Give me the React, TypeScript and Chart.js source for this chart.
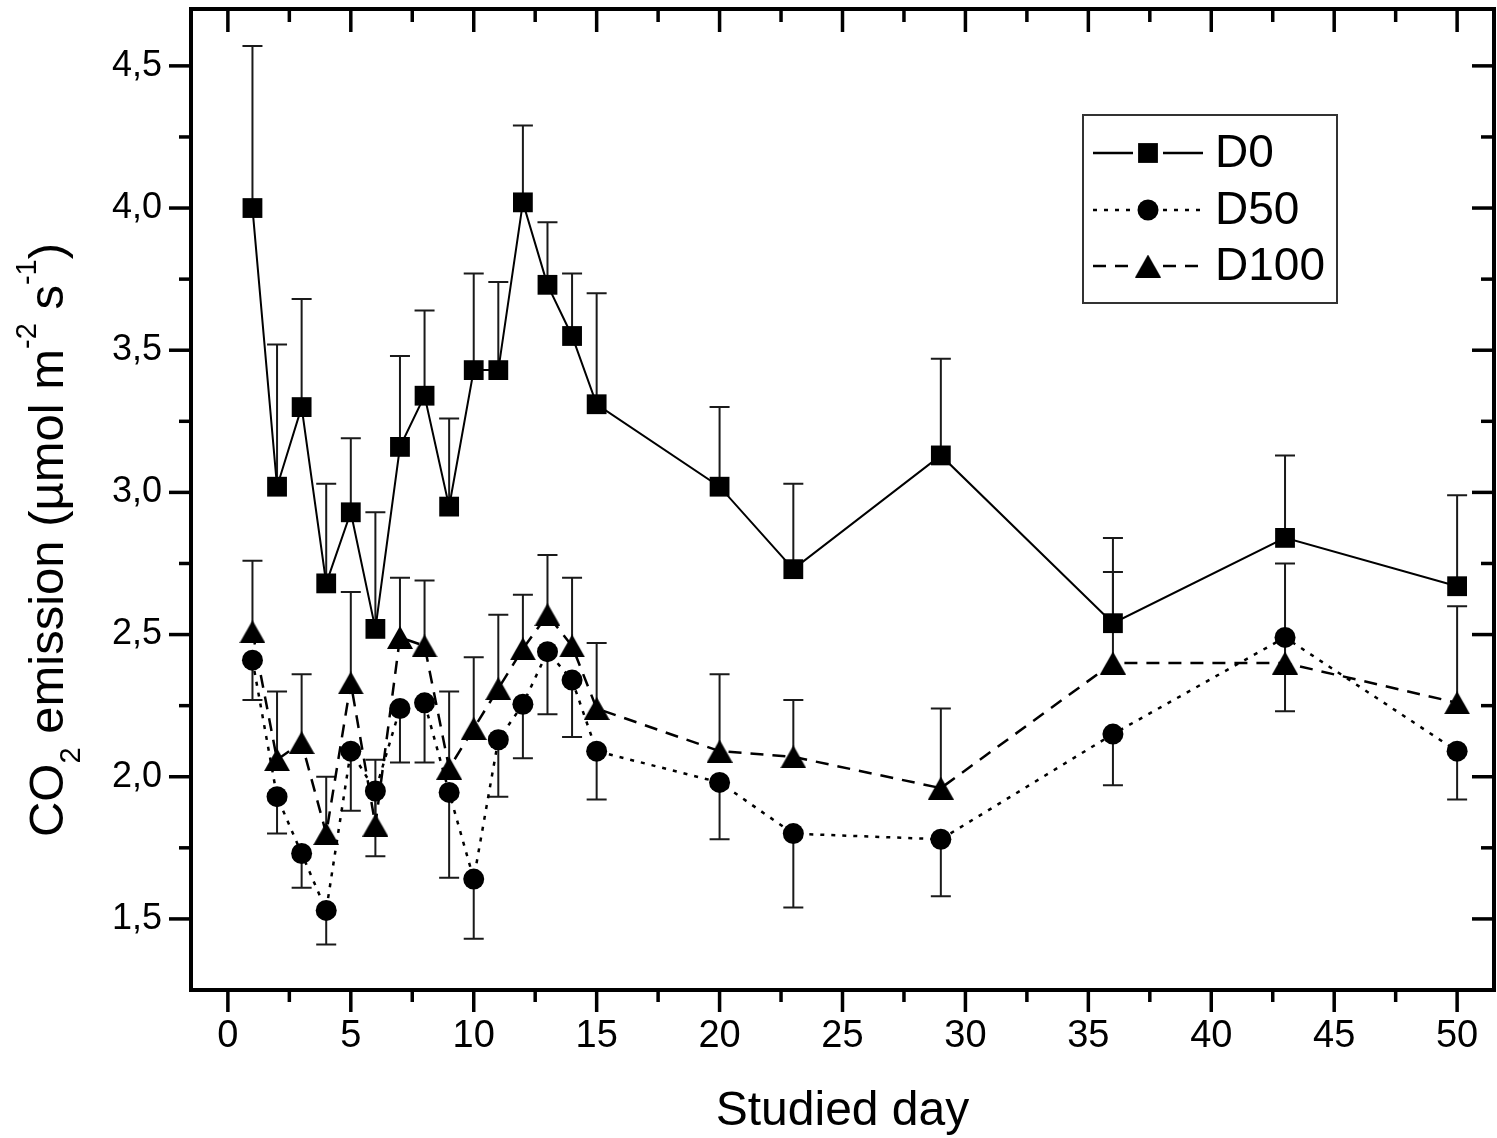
import React, { useEffect, useRef } from "react";
import { Chart, registerables } from "chart.js";

Chart.register(...registerables);

// ---- Data ----
const days = [1, 2, 3, 4, 5, 6, 7, 8, 9, 10, 11, 12, 13, 14, 15, 20, 23, 29, 36, 43, 50];

const d0Values = [4.0, 3.02, 3.3, 2.68, 2.93, 2.52, 3.16, 3.34, 2.95, 3.43, 3.43, 4.02, 3.73, 3.55, 3.31, 3.02, 2.73, 3.13, 2.54, 2.84, 2.67];
const d0Errors = [0.57, 0.5, 0.38, 0.35, 0.26, 0.41, 0.32, 0.3, 0.31, 0.34, 0.31, 0.27, 0.22, 0.22, 0.39, 0.28, 0.3, 0.34, 0.3, 0.29, 0.32];

const d50Values = [2.41, 1.93, 1.73, 1.53, 2.09, 1.95, 2.24, 2.26, 1.945, 1.64, 2.13, 2.255, 2.44, 2.34, 2.09, 1.98, 1.8, 1.78, 2.15, 2.49, 2.09];
const d50Errors = [0.14, 0.13, 0.12, 0.12, 0.21, 0.23, 0.19, 0.21, 0.3, 0.21, 0.2, 0.19, 0.22, 0.2, 0.17, 0.2, 0.26, 0.2, 0.18, 0.26, 0.17];

const d100Values = [2.51, 2.06, 2.12, 1.8, 2.33, 1.83, 2.49, 2.46, 2.03, 2.17, 2.31, 2.45, 2.57, 2.46, 2.24, 2.09, 2.07, 1.96, 2.4, 2.4, 2.26];
const d100Errors = [0.25, 0.24, 0.24, 0.2, 0.32, 0.23, 0.21, 0.23, 0.27, 0.25, 0.26, 0.19, 0.21, 0.24, 0.23, 0.27, 0.2, 0.28, 0.32, 0.35, 0.34];

const seriesNames = ["D0", "D50", "D100"];

const xTicks = [0, 5, 10, 15, 20, 25, 30, 35, 40, 45, 50];
const xMinorTicks = [2.5, 7.5, 12.5, 17.5, 22.5, 27.5, 32.5, 37.5, 42.5, 47.5];
const yTicks = [1.5, 2.0, 2.5, 3.0, 3.5, 4.0, 4.5];
const yMinorTicks = [1.75, 2.25, 2.75, 3.25, 3.75, 4.25];

const xTitle = "Studied day";
const yTitleParts = [
  { text: "CO", kind: "normal" },
  { text: "2", kind: "sub" },
  { text: " emission (\u00b5mol m", kind: "normal" },
  { text: "-2", kind: "sup" },
  { text: " s", kind: "normal" },
  { text: "-1", kind: "sup" },
  { text: ")", kind: "normal" },
];

const FONT = "'Liberation Sans', Arial, Helvetica, sans-serif";

export default function App() {
  const canvasRef = useRef<HTMLCanvasElement>(null);

  useEffect(() => {
    const canvas = canvasRef.current;
    if (!canvas) return;

    // triangle marker image (centred on its bounding box)
    const tri = document.createElement("canvas");
    tri.width = 26;
    tri.height = 23;
    const tctx = tri.getContext("2d")!;
    tctx.fillStyle = "#000";
    tctx.beginPath();
    tctx.moveTo(13, 0);
    tctx.lineTo(26, 23);
    tctx.lineTo(0, 23);
    tctx.closePath();
    tctx.fill();

    const toPts = (vals: number[]) => days.map((d, i) => ({ x: d, y: vals[i] }));

    const drawMarker = (ctx: CanvasRenderingContext2D, kind: string, x: number, y: number) => {
      ctx.fillStyle = "#000";
      if (kind === "rect") {
        ctx.fillRect(x - 9.9, y - 9.9, 19.8, 19.8);
      } else if (kind === "circle") {
        ctx.beginPath();
        ctx.arc(x, y, 10.5, 0, Math.PI * 2);
        ctx.fill();
      } else {
        ctx.drawImage(tri, x - 13, y - 11.5);
      }
    };

    const errorBarsPlugin = {
      id: "errorBars",
      beforeDatasetsDraw(chart: any) {
        const { ctx, scales } = chart;
        const xs = scales.x;
        const ys = scales.y;
        ctx.save();
        ctx.strokeStyle = "#1a1a1a";
        ctx.lineWidth = 2;
        chart.data.datasets.forEach((ds: any) => {
          ds.data.forEach((p: any, i: number) => {
            const e = ds.errors[i];
            const px = xs.getPixelForValue(p.x);
            const py0 = ys.getPixelForValue(p.y);
            const py1 = ys.getPixelForValue(p.y + ds.errorDir * e);
            ctx.beginPath();
            ctx.moveTo(px, py0);
            ctx.lineTo(px, py1);
            ctx.moveTo(px - 10, py1);
            ctx.lineTo(px + 10, py1);
            ctx.stroke();
          });
        });
        ctx.restore();
      },
    };

    const framePlugin = {
      id: "frame",
      afterDraw(chart: any) {
        const { ctx, chartArea, scales } = chart;
        const { left, right, top, bottom } = chartArea;
        const xs = scales.x;
        const ys = scales.y;
        ctx.save();
        ctx.strokeStyle = "#000";
        ctx.lineWidth = 4;
        ctx.lineCap = "butt";
        ctx.strokeRect(left, top, right - left, bottom - top);
        ctx.lineWidth = 3.5;
        const seg = (x1: number, y1: number, x2: number, y2: number) => {
          ctx.beginPath();
          ctx.moveTo(x1, y1);
          ctx.lineTo(x2, y2);
          ctx.stroke();
        };
        xTicks.forEach((v) => {
          const px = xs.getPixelForValue(v);
          seg(px, bottom, px, bottom + 22);
          seg(px, top, px, top + 23);
        });
        xMinorTicks.forEach((v) => {
          const px = xs.getPixelForValue(v);
          seg(px, bottom, px, bottom + 12);
          seg(px, top, px, top + 13);
        });
        yTicks.forEach((v) => {
          const py = ys.getPixelForValue(v);
          seg(left, py, left - 22, py);
          seg(right, py, right - 22, py);
        });
        yMinorTicks.forEach((v) => {
          const py = ys.getPixelForValue(v);
          seg(left, py, left - 12, py);
          seg(right, py, right - 13, py);
        });
        ctx.restore();
      },
    };

    const yTitlePlugin = {
      id: "yTitle",
      afterDraw(chart: any) {
        const { ctx } = chart;
        ctx.save();
        ctx.translate(63, 540);
        ctx.rotate(-Math.PI / 2);
        ctx.fillStyle = "#000";
        ctx.textBaseline = "alphabetic";
        const fontFor = (k: string) => (k === "normal" ? `49px ${FONT}` : `29px ${FONT}`);
        let total = 0;
        yTitleParts.forEach((p) => {
          ctx.font = fontFor(p.kind);
          total += ctx.measureText(p.text).width;
        });
        let cx = -total / 2;
        yTitleParts.forEach((p) => {
          ctx.font = fontFor(p.kind);
          const shift = p.kind === "sub" ? 17 : p.kind === "sup" ? -27 : 0;
          ctx.fillText(p.text, cx, shift);
          cx += ctx.measureText(p.text).width;
        });
        ctx.restore();
      },
    };

    const legendPlugin = {
      id: "customLegend",
      afterDraw(chart: any) {
        const { ctx } = chart;
        ctx.save();
        ctx.fillStyle = "#fff";
        ctx.fillRect(1083, 115, 254, 188);
        ctx.strokeStyle = "#333";
        ctx.lineWidth = 2;
        ctx.strokeRect(1083, 115, 254, 188);
        const rows = [153, 210, 266];
        const kinds = ["rect", "circle", "tri"];
        const dashes = [[], [4, 7], [13, 9]];
        chart.data.datasets.forEach((ds: any, i: number) => {
          const y = rows[i];
          ctx.strokeStyle = "#000";
          ctx.lineWidth = 2.5;
          ctx.setLineDash(dashes[i]);
          ctx.beginPath();
          ctx.moveTo(1093, y);
          ctx.lineTo(1133, y);
          ctx.moveTo(1163, y);
          ctx.lineTo(1203, y);
          ctx.stroke();
          ctx.setLineDash([]);
          drawMarker(ctx, kinds[i], 1148, y);
          ctx.fillStyle = "#000";
          ctx.font = `46px ${FONT}`;
          ctx.textBaseline = "middle";
          ctx.textAlign = "left";
          ctx.fillText(ds.label, 1215, y + 1);
        });
        ctx.restore();
      },
    };

    const chart = new Chart(canvas, {
      type: "line",
      data: {
        datasets: [
          {
            label: seriesNames[0],
            data: toPts(d0Values),
            errors: d0Errors,
            errorDir: 1,
            borderColor: "#000",
            borderWidth: 2,
            pointStyle: "rect",
            pointRadius: 14,
            pointBackgroundColor: "#000",
            pointBorderWidth: 0,
            tension: 0,
          } as any,
          {
            label: seriesNames[1],
            data: toPts(d50Values),
            errors: d50Errors,
            errorDir: -1,
            borderColor: "#000",
            borderWidth: 2.5,
            borderDash: [4, 7],
            pointStyle: "circle",
            pointRadius: 10.5,
            pointBackgroundColor: "#000",
            pointBorderWidth: 0,
            tension: 0,
          } as any,
          {
            label: seriesNames[2],
            data: toPts(d100Values),
            errors: d100Errors,
            errorDir: 1,
            borderColor: "#000",
            borderWidth: 2.5,
            borderDash: [13, 9],
            pointStyle: tri,
            pointRadius: 13,
            pointBackgroundColor: "#000",
            pointBorderWidth: 0,
            tension: 0,
          } as any,
        ],
      },
      options: {
        responsive: false,
        animation: false,
        devicePixelRatio: 1,
        layout: { autoPadding: false, padding: { top: 9, right: 3, left: 0, bottom: 0 } },
        plugins: {
          legend: { display: false },
          tooltip: { enabled: false },
        },
        scales: {
          x: {
            type: "linear",
            min: -1.5,
            max: 51.5,
            grid: { display: false, drawTicks: false },
            border: { display: false },
            afterBuildTicks: (s: any) => {
              s.ticks = xTicks.map((v) => ({ value: v }));
            },
            afterFit: (s: any) => {
              s.height = 148;
              s.paddingLeft = 0;
              s.paddingRight = 0;
            },
            ticks: {
              font: { family: FONT, size: 38 },
              color: "#000",
              padding: 24,
              maxRotation: 0,
              autoSkip: false,
              callback: (v: any) => String(v),
            },
            title: {
              display: true,
              text: xTitle,
              color: "#000",
              font: { family: FONT, size: 48, lineHeight: 1 },
              padding: { top: 0, bottom: 2 },
            },
          },
          y: {
            type: "linear",
            min: 1.25,
            max: 4.7,
            grid: { display: false, drawTicks: false },
            border: { display: false },
            afterBuildTicks: (s: any) => {
              s.ticks = yTicks.map((v) => ({ value: v }));
            },
            afterFit: (s: any) => {
              s.width = 191;
              s.paddingTop = 0;
              s.paddingBottom = 0;
            },
            ticks: {
              font: { family: FONT, size: 36 },
              color: "#000",
              padding: 29,
              autoSkip: false,
              callback: (v: any) => Number(v).toFixed(1).replace(".", ","),
            },
          },
        },
      } as any,
      plugins: [errorBarsPlugin, framePlugin, yTitlePlugin, legendPlugin],
    });

    return () => chart.destroy();
  }, []);

  return (
    <div style={{ position: "absolute", left: 0, top: 0, width: 1497, height: 1138, background: "#fff" }}>
      <canvas ref={canvasRef} width={1497} height={1138} style={{ display: "block" }} />
    </div>
  );
}
